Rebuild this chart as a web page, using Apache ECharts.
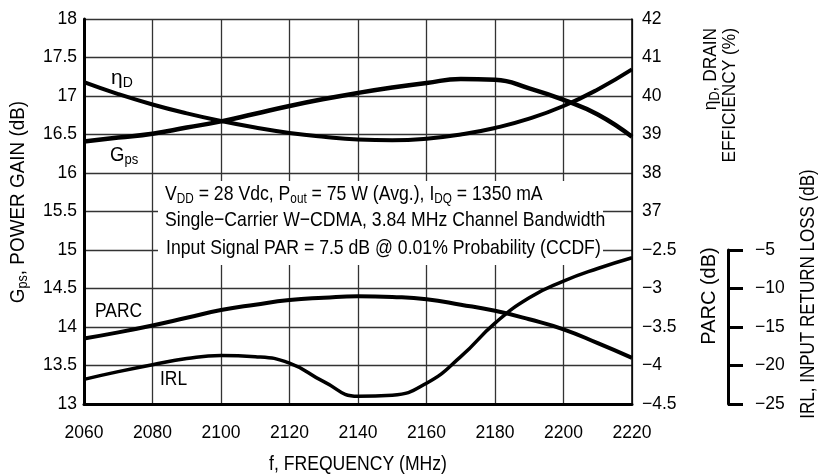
<!DOCTYPE html>
<html>
<head>
<meta charset="utf-8">
<script src="https://cdn.jsdelivr.net/npm/echarts@6/dist/echarts.min.js"></script>
<style>
html, body { margin: 0; padding: 0; background: #fff; }
#main { width: 820px; height: 475px; }
</style>
</head>
<body>
<div id="main"></div>
<script>
// frequency points (MHz)
const freq = [2060, 2070, 2080, 2090, 2100, 2110, 2120, 2130, 2140, 2150, 2160, 2170, 2180, 2190, 2200, 2210, 2220];
// power gain (dB)
const gps = [16.41, 16.46, 16.51, 16.59, 16.67, 16.77, 16.87, 16.96, 17.04, 17.11, 17.17, 17.22, 17.21, 17.10, 16.95, 16.76, 16.47];
// drain efficiency (%)
const eta = [40.36, 40.05, 39.78, 39.55, 39.35, 39.18, 39.04, 38.94, 38.87, 38.85, 38.89, 39.0, 39.17, 39.41, 39.74, 40.17, 40.69];
// PARC (dB)
const parc = [-3.65, -3.57, -3.48, -3.38, -3.28, -3.21, -3.15, -3.12, -3.10, -3.11, -3.14, -3.21, -3.29, -3.40, -3.53, -3.71, -3.90];
// input return loss (dB)
const irl = [-21.8, -20.8, -19.9, -19.1, -18.7, -18.85, -19.7, -22.1, -24.0, -23.85, -22.3, -18.85, -14.5, -11.2, -9.05, -7.4, -6.0];

const FONT = "'Liberation Sans', Arial, sans-serif";
const GRID_COLOR = '#333';

const pairs = (ys) => freq.map((f, i) => [f, ys[i]]);
const minus = (v) => String(v).replace('-', '\u2212');

const chart = echarts.init(document.getElementById('main'), null, { renderer: 'canvas' });

const labelStyle = { color: '#000', fontSize: 17.5, fontFamily: FONT };
const sub = { fontSize: 14, fontFamily: FONT, fill: '#000', padding: [10, 0, 0, 0] };

// text drawn condensed: scaleX squeezes it along the reading direction
function txt(text, x, y, opts) {
  opts = opts || {};
  const sx = opts.scale || 0.84;
  return {
    type: 'text',
    x: x,
    y: y,
    rotation: opts.rotation || 0,
    scaleX: sx,
    scaleY: 1,
    z: 110,
    style: {
      text: text,
      fill: '#000',
      fontSize: opts.fontSize || 21,
      fontFamily: FONT,
      align: opts.align || 'left',
      textAlign: opts.align || 'left',
      verticalAlign: 'middle',
      textVerticalAlign: 'middle',
      lineHeight: opts.lineHeight,
      rich: { s: sub }
    }
  };
}

const option = {
  animation: false,
  backgroundColor: '#fff',
  grid: [
    { left: 84, right: 188, top: 19, bottom: 71, outerBoundsMode: 'none' },
    { left: 700, right: 92, top: 250, bottom: 71, outerBoundsMode: 'none' }
  ],
  xAxis: [
    {
      type: 'value',
      min: 2060,
      max: 2220,
      interval: 20,
      axisLine: { show: true, onZero: false, lineStyle: { color: '#000', width: 3 } },
      axisTick: { show: false },
      axisLabel: Object.assign({ margin: 20, formatter: (v) => String(v) }, labelStyle),
      splitLine: { show: true, lineStyle: { color: GRID_COLOR, width: 1.3 } }
    },
    { type: 'value', gridIndex: 1, min: 0, max: 1, show: false }
  ],
  yAxis: [
    {
      // Gps
      type: 'value',
      min: 13,
      max: 18,
      interval: 0.5,
      axisLine: { show: true, onZero: false, lineStyle: { color: '#000', width: 3 } },
      axisTick: { show: false },
      axisLabel: Object.assign({ margin: 7 }, labelStyle),
      splitLine: { show: true, lineStyle: { color: GRID_COLOR, width: 1.3 } }
    },
    {
      // drain efficiency, upper half of right scale
      type: 'value',
      position: 'right',
      offset: 0,
      min: 32,
      max: 42,
      interval: 1,
      axisLine: { show: true, onZero: false, lineStyle: { color: '#000', width: 1.5 } },
      axisTick: { show: false },
      axisLabel: Object.assign({ margin: 10, formatter: (v) => (v >= 37 ? String(v) : '') }, labelStyle),
      splitLine: { show: false }
    },
    {
      // PARC, lower half of right scale
      type: 'value',
      position: 'right',
      offset: 0,
      min: -4.5,
      max: 0.5,
      interval: 0.5,
      axisLine: { show: false },
      axisTick: { show: false },
      axisLabel: Object.assign({ margin: 10, formatter: (v) => (v <= -2.5 ? minus(v) : '') }, labelStyle),
      splitLine: { show: false }
    },
    {
      // IRL scale used by the curve (hidden)
      type: 'value',
      min: -25,
      max: 25,
      interval: 5,
      show: false
    },
    {
      // IRL bracket axis on the far right
      type: 'value',
      gridIndex: 1,
      position: 'right',
      min: -25,
      max: -5,
      interval: 5,
      axisLine: { show: true, onZero: false, lineStyle: { color: '#000', width: 3 } },
      axisTick: { show: true, inside: false, length: 15, lineStyle: { color: '#000', width: 3 } },
      axisLabel: Object.assign({ margin: 27, formatter: minus }, labelStyle),
      splitLine: { show: false }
    }
  ],
  series: [
    {
      name: 'Gps',
      type: 'line',
      yAxisIndex: 0,
      data: pairs(gps),
      smooth: true,
      symbol: 'none',
      lineStyle: { color: '#000', width: 4.5 }
    },
    {
      name: 'ηD',
      type: 'line',
      yAxisIndex: 1,
      data: pairs(eta),
      smooth: true,
      symbol: 'none',
      lineStyle: { color: '#000', width: 4 }
    },
    {
      name: 'PARC',
      type: 'line',
      yAxisIndex: 2,
      data: pairs(parc),
      smooth: true,
      symbol: 'none',
      lineStyle: { color: '#000', width: 4 }
    },
    {
      name: 'IRL',
      type: 'line',
      yAxisIndex: 3,
      data: pairs(irl),
      smooth: true,
      symbol: 'none',
      lineStyle: { color: '#000', width: 3.5 }
    }
  ],
  graphic: [
    // white box behind the test conditions
    { type: 'rect', z: 100, shape: { x: 158, y: 181, width: 445, height: 84 }, style: { fill: '#fff' } },
    txt('V{s|DD} = 28 Vdc, P{s|out} = 75 W (Avg.), I{s|DQ} = 1350 mA', 165, 194),
    txt('Single\u2212Carrier W\u2212CDMA, 3.84 MHz Channel Bandwidth', 165, 220),
    txt('Input Signal PAR = 7.5 dB @ 0.01% Probability (CCDF)', 166, 248),
    // curve labels
    txt('\u03b7{s|D}', 111, 78, { fontSize: 21, scale: 1 }),
    txt('G{s|ps}', 110, 155, { fontSize: 20, scale: 0.93 }),
    txt('PARC', 95, 311, { fontSize: 20, scale: 0.87 }),
    txt('IRL', 160, 379, { fontSize: 20, scale: 0.87 }),
    // axis titles
    txt('f, FREQUENCY (MHz)', 358, 464, { align: 'center', fontSize: 20, scale: 0.88 }),
    txt('G{s|ps}, POWER GAIN (dB)', 18, 202, { align: 'center', fontSize: 21, scale: 0.9, rotation: Math.PI / 2 }),
    txt('\u03b7{s|D}, DRAIN\nEFFICIENCY (%)', 720, 28, { align: 'right', fontSize: 19, scale: 0.91, rotation: Math.PI / 2, lineHeight: 19 }),
    txt('PARC (dB)', 709, 296, { align: 'center', fontSize: 20, scale: 1, rotation: Math.PI / 2 }),
    txt('IRL, INPUT RETURN LOSS (dB)', 808, 294, { align: 'center', fontSize: 20, scale: 0.85, rotation: Math.PI / 2 })
  ]
};

chart.setOption(option);
</script>
</body>
</html>
